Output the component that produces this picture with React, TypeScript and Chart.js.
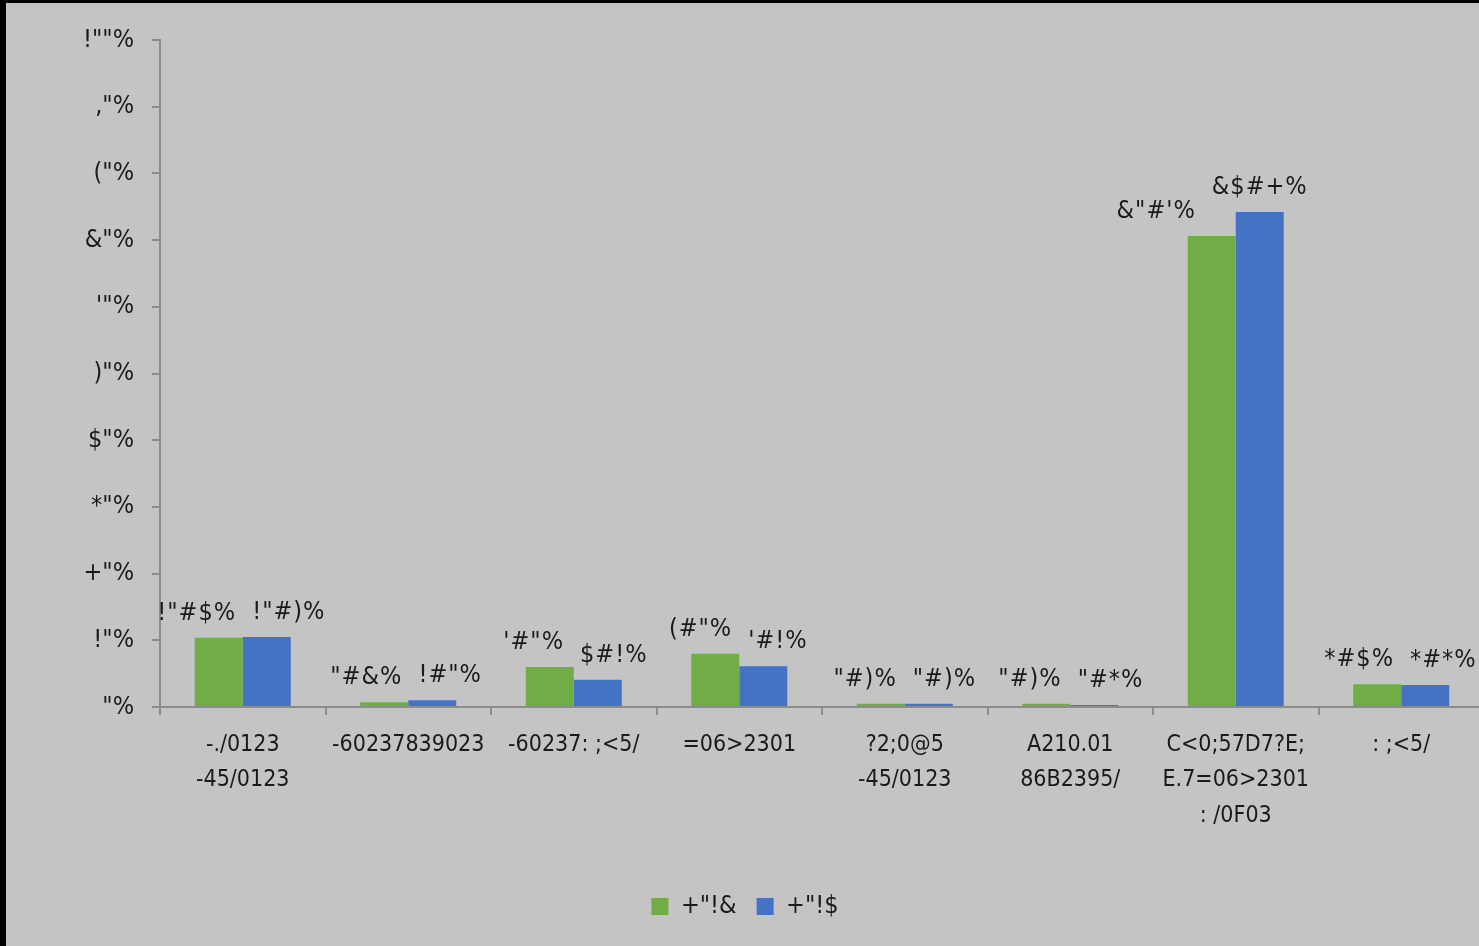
import React, { useEffect, useRef } from "react";
import { Chart, registerables } from "chart.js";

Chart.register(...registerables);

const categories: string[][] = [
  ["-./0123", "-45/0123"],
  ["-60237839023"],
  ["-60237: ;<5/"],
  ["=06>2301"],
  ["?2;0@5", "-45/0123"],
  ["A210.01", "86B2395/"],
  ["C<0;57D7?E;", "E.7=06>2301", ": /0F03"],
  [": ;<5/"],
];

const seriesNames = ['+"!&', '+"!$'];
const seriesGreen = [10.4, 0.7, 6.0, 8.0, 0.5, 0.5, 70.6, 3.4];
const seriesBlue = [10.5, 1.0, 4.1, 6.1, 0.5, 0.3, 74.2, 3.3];
const colors = ["#70ad47", "#4472c4"];

// glyph substitution seen in the reference's text
const glyphMap: Record<string, string> = {
  "0": '"', "1": "!", "2": "+", "3": "*", "4": "$", "5": ")",
  "6": "'", "7": "&", "8": "(", "9": ",", ".": "#", "%": "%",
};
const garble = (s: string) => s.split("").map((c) => glyphMap[c] ?? c).join("");

const FONT = "'DejaVu Sans Condensed', 'Liberation Sans', sans-serif";
const TEXT = "#1a1a1a";

const labelPlugin = {
  id: "barLabels",
  afterDatasetsDraw(chart: any) {
    const ctx = chart.ctx;
    ctx.save();
    ctx.font = `25px ${FONT}`;
    (ctx as any).letterSpacing = "1px";
    ctx.fillStyle = TEXT;
    ctx.textAlign = "center";
    ctx.textBaseline = "bottom";
    const m0 = chart.getDatasetMeta(0);
    const m1 = chart.getDatasetMeta(1);
    const d0 = chart.data.datasets[0].data as number[];
    const d1 = chart.data.datasets[1].data as number[];
    const gap = 16;
    for (let i = 0; i < d0.length; i++) {
      const t0 = garble(d0[i].toFixed(1) + "%");
      const t1 = garble(d1[i].toFixed(1) + "%");
      const w0 = ctx.measureText(t0).width;
      const w1 = ctx.measureText(t1).width;
      let x0 = m0.data[i].x;
      let x1 = m1.data[i].x;
      const y0 = m0.data[i].y - 12;
      const y1 = m1.data[i].y - 12;
      const overlap = x0 + w0 / 2 + gap - (x1 - w1 / 2);
      if (overlap > 0 && Math.abs(y0 - y1) < 30) {
        if (d1[i] - d0[i] > 1) x0 -= overlap;
        else {
          x0 -= overlap / 2;
          x1 += overlap / 2;
        }
      }
      ctx.fillText(t0, x0, y0);
      ctx.fillText(t1, x1, y1);
    }
    ctx.restore();
  },
};

export default function App() {
  const ref = useRef<HTMLCanvasElement>(null);
  useEffect(() => {
    if (!ref.current) return;
    const chart = new Chart(ref.current, {
      type: "bar",
      data: {
        labels: categories,
        datasets: [
          { label: seriesNames[0], data: seriesGreen, backgroundColor: colors[0], borderWidth: 0 },
          { label: seriesNames[1], data: seriesBlue, backgroundColor: colors[1], borderWidth: 0 },
        ],
      },
      options: {
        animation: false,
        responsive: false,
        maintainAspectRatio: false,
        layout: { padding: { left: 0, right: 22, top: 37, bottom: 17 } },
        datasets: { bar: { categoryPercentage: 0.58, barPercentage: 1 } },
        plugins: {
          legend: {
            position: "bottom",
            labels: {
              boxWidth: 17,
              boxHeight: 17,
              padding: 20,
              color: TEXT,
              font: { size: 25, family: FONT },
            },
          },
          tooltip: { enabled: false },
        },
        scales: {
          x: {
            grid: { drawOnChartArea: false, drawTicks: true, tickLength: 8, offset: true, color: "#8c8c8c", lineWidth: 2 },
            border: { color: "#8c8c8c", width: 2 },
            ticks: { color: TEXT, font: { size: 23, family: FONT, lineHeight: 1.55 }, padding: 12, maxRotation: 0, autoSkip: false },
            afterFit: (s: any) => { s.height = 167; },
          },
          y: {
            min: 0,
            max: 100,
            grid: { drawOnChartArea: false, drawTicks: true, tickLength: 8, color: "#8c8c8c", lineWidth: 2 },
            border: { color: "#8c8c8c", width: 2 },
            ticks: {
              stepSize: 10,
              color: TEXT,
              font: { size: 25, family: FONT },
              padding: 18,
              callback: (v: any) => garble(String(v) + "%"),
            },
            afterFit: (s: any) => { s.width = 154; },
          },
        },
      },
      plugins: [labelPlugin],
    });
    return () => chart.destroy();
  }, []);

  return (
    <div style={{ position: "fixed", left: 0, top: 0, width: 1479, height: 946, background: "#000", overflow: "hidden" }}>
      <div style={{ position: "absolute", left: 6, top: 3, width: 1500, height: 943, background: "#c4c4c4" }}>
        <canvas ref={ref} width={1500} height={943} style={{ width: 1500, height: 943, display: "block" }} />
      </div>
    </div>
  );
}
